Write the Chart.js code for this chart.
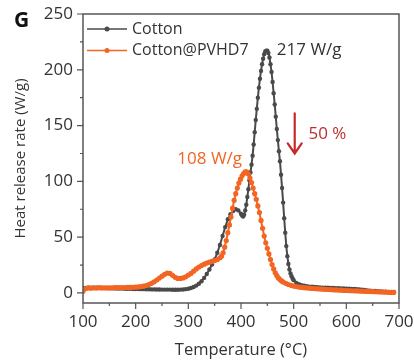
<!DOCTYPE html>
<html>
<head>
<meta charset="utf-8">
<script src="https://cdn.jsdelivr.net/npm/chart.js@4.4.0/dist/chart.umd.min.js"></script>
<style>
  body { margin: 0; background: #fff; }
  canvas { display: block; }
</style>
</head>
<body>
<canvas id="hrr" width="414" height="361"></canvas>
<script>
// values (temperature in C, heat release rate in W/g)
const cottonTemp = [100,105,110,115,120,125,130,135,140,145,150,155,160,165,170,175,180,185,190,195,
  200,205,210,215,220,225,230,235,240,245,250,255,260,265,270,275,280,285,290,295,
  300,305,310,315,320,325,330,335,340,345,350,355,360,365,370,375,380,385,390,395,400,
  402,404,406,408,410,412,414,416,418,420,422,424,426,428,430,432,434,436,438,440,
  442,444,446,448,450,452,454,456,458,460,462,464,466,468,470,472,474,476,478,480,
  482,484,486,488,490,492,494,496,498,500,
  505,510,515,520,525,530,535,540,545,550,555,560,565,570,575,580,585,590,595,600,
  605,610,615,620,625,630,635,640,645,650,655,660,665,670,675,680,685,690]
const cottonHRR = [4.5,4.5,4.8,4.8,4.7,4.6,4.5,4.5,4.4,4.3,4.2,4.2,4.1,4,4,3.9,3.8,3.8,3.7,3.6,
  3.5,3.5,3.4,3.4,3.3,3.3,3.2,3.2,3.1,3.1,3,3,3,3,2.9,2.9,2.9,3,3.1,3.4,
  3.8,4.4,5.3,6.6,8.3,10.5,13.5,17,21,25.5,30,36,43,51,59,66,70.5,73.5,75,74,71,
  69.5,68.5,70,74,79,86,93,101,108,115,123,133,144,155,165,175,184,192,199,205,
  210,214,216.5,217,217,215,211,205,198,189,179,169,158,147,137,127,118,106,94,81,
  67,54,42,33,26,21,17.5,15,13,11.5,
  9,7.8,7,6.4,6,5.7,5.5,5.3,5.1,5,4.8,4.7,4.6,4.5,4.4,4.3,4.2,4.1,4,3.9,
  3.8,3.7,3.5,3.3,3.1,2.9,2.6,2.3,2.1,1.9,1.7,1.5,1.3,1.2,1.1,1,0.9,0.8]

const pvhdTemp = [100,105,110,115,120,125,130,135,140,145,150,155,160,165,170,175,180,185,190,195,
  200,205,210,215,220,225,230,235,240,245,250,255,260,265,270,275,280,285,290,295,
  300,305,310,315,320,325,330,335,340,345,350,355,360,
  363,366,369,372,375,378,381,384,387,390,393,396,399,402,405,408,411,414,417,420,
  423,426,429,432,435,438,441,444,447,450,453,456,459,462,465,468,471,474,477,480,
  485,490,495,500,505,510,515,520,525,530,535,540,545,550,555,560,565,570,575,580,
  585,590,595,600,605,610,615,620,625,630,635,640,645,650,655,660,665,670,675,680,685,690]
const pvhdHRR = [1.5,4,4.5,4.2,4.6,4.4,4.7,4.5,4.6,4.5,4.6,4.6,4.7,4.7,4.8,4.8,4.9,5,5,5.1,
  5.2,5.4,5.7,6.1,6.7,7.5,8.6,10,11.6,13.3,15,16.7,17.8,17.5,15.8,14,13,13,13.5,14.5,
  16,17.5,19.5,21.5,23.2,24.6,25.8,26.8,27.6,28.3,29,30,31.5,
  33,36,41,47,54,61,68,76,83,89,94,98.5,102,105,107,108.5,108.5,106.5,103,99,
  94,89,84,78,72,65,58,51,45,40,35,30,25.5,21.5,18,15.5,13.5,12,10.8,9.8,
  8.6,7.6,6.8,6.2,5.7,5.3,5,4.7,4.5,4.3,4.1,3.9,3.7,3.6,3.4,3.3,3.1,3,2.8,2.7,
  2.6,2.5,2.3,2.2,2.1,2,1.9,1.8,1.7,1.6,1.5,1.4,1.3,1.2,1.1,1,0.9,0.8,0.7,0.6,0.5,0.5]

const seriesNames = ['Cotton', 'Cotton@PVHD7']
const seriesColors = ['#4a4a4a', '#f26522']

const FONT = '"Open Sans", "DejaVu Sans", sans-serif'
const TEXT = '#333333'

function toPoints(xs, ys) {
  return xs.map((x, i) => ({ x: x, y: ys[i] }))
}

// frame, tick marks, legend, panel letter and the annotations
const decorations = {
  id: 'decorations',
  afterDraw(chart) {
    const ctx = chart.ctx
    const a = chart.chartArea
    const xs = chart.scales.x
    const ys = chart.scales.y
    ctx.save()

    ctx.strokeStyle = '#555'
    ctx.lineWidth = 1.5
    ctx.strokeRect(a.left, a.top, a.right - a.left, a.bottom - a.top)

    ctx.lineWidth = 1.2
    ctx.beginPath()
    xs.ticks.forEach(t => {
      let px = xs.getPixelForValue(t.value)
      let len = t.value % 100 === 0 ? 6 : 3
      ctx.moveTo(px, a.bottom)
      ctx.lineTo(px, a.bottom + len)
    })
    ys.ticks.forEach(t => {
      let py = ys.getPixelForValue(t.value)
      let len = t.value % 50 === 0 ? 6 : 3
      ctx.moveTo(a.left, py)
      ctx.lineTo(a.left - len, py)
    })
    ctx.stroke()

    // legend
    ctx.font = '16px ' + FONT
    ctx.textBaseline = 'middle'
    ctx.textAlign = 'left'
    chart.data.datasets.forEach((ds, i) => {
      let y = a.top + 15 + i * 21.5
      let x0 = a.left + 4
      ctx.strokeStyle = ds.borderColor
      ctx.lineWidth = 1.5
      ctx.beginPath()
      ctx.moveTo(x0, y)
      ctx.lineTo(x0 + 40, y)
      ctx.stroke()
      ctx.fillStyle = ds.borderColor
      ctx.beginPath()
      ctx.arc(x0 + 20, y, 2.5, 0, Math.PI * 2)
      ctx.fill()
      ctx.fillStyle = TEXT
      ctx.fillText(ds.label, x0 + 45, y)
    })

    // panel letter
    ctx.font = 'bold 21px ' + FONT
    ctx.fillStyle = '#111'
    ctx.fillText('G', 14, 21)

    // peak labels
    ctx.font = '17px ' + FONT
    ctx.fillStyle = TEXT
    ctx.fillText('217 W/g', xs.getPixelForValue(468), ys.getPixelForValue(218))
    ctx.fillStyle = seriesColors[1]
    ctx.textAlign = 'right'
    ctx.fillText('108 W/g', xs.getPixelForValue(402), ys.getPixelForValue(120))
    ctx.textAlign = 'left'
    ctx.fillStyle = '#b8312f'
    ctx.fillText('50 %', xs.getPixelForValue(528), ys.getPixelForValue(142))

    // drop arrow
    let ax = xs.getPixelForValue(502)
    let top = ys.getPixelForValue(161)
    let tip = ys.getPixelForValue(125)
    ctx.strokeStyle = '#c62b2b'
    ctx.lineWidth = 2.2
    ctx.lineCap = 'round'
    ctx.beginPath()
    ctx.moveTo(ax, top)
    ctx.lineTo(ax, tip)
    ctx.moveTo(ax - 7, tip - 10)
    ctx.lineTo(ax, tip)
    ctx.lineTo(ax + 7, tip - 10)
    ctx.stroke()

    ctx.restore()
  }
}

const ctx = document.getElementById('hrr').getContext('2d')
const chart = new Chart(ctx, {
  type: 'scatter',
  data: {
    datasets: [
      {
        label: seriesNames[0],
        data: toPoints(cottonTemp, cottonHRR),
        showLine: true,
        borderColor: seriesColors[0],
        backgroundColor: seriesColors[0],
        borderWidth: 2,
        pointRadius: 2.2,
        pointBorderWidth: 0,
        order: 1
      },
      {
        label: seriesNames[1],
        data: toPoints(pvhdTemp, pvhdHRR),
        showLine: true,
        borderColor: seriesColors[1],
        backgroundColor: seriesColors[1],
        borderWidth: 2,
        pointRadius: 2.6,
        pointBorderWidth: 0,
        order: 0
      }
    ]
  },
  options: {
    responsive: false,
    animation: false,
    layout: { padding: { left: 0, top: 14, right: 15, bottom: 0 } },
    plugins: {
      legend: { display: false },
      tooltip: { enabled: false }
    },
    scales: {
      x: {
        type: 'linear',
        min: 100,
        max: 700,
        afterFit: (s) => { s.height = 58; s.paddingLeft = 0; s.paddingRight = 0 },
        grid: { display: false, drawTicks: false },
        border: { display: false },
        ticks: {
          stepSize: 50,
          autoSkip: false,
          maxRotation: 0,
          padding: 9,
          color: TEXT,
          font: { family: FONT, size: 17 },
          callback: (v) => v % 100 === 0 ? v : ''
        },
        title: {
          display: true,
          text: 'Temperature (°C)',
          color: TEXT,
          font: { family: FONT, size: 16.5 },
          padding: { top: 0, bottom: 1 }
        }
      },
      y: {
        min: -9,
        max: 250,
        afterFit: (s) => { s.width = 83; s.paddingTop = 0; s.paddingBottom = 0 },
        grid: { display: false, drawTicks: false },
        border: { display: false },
        ticks: {
          stepSize: 25,
          includeBounds: false,
          autoSkip: false,
          padding: 10,
          color: TEXT,
          font: { family: FONT, size: 17 },
          callback: (v) => v % 50 === 0 ? v : ''
        },
        title: {
          display: true,
          text: 'Heat release rate (W/g)',
          color: TEXT,
          font: { family: FONT, size: 15 },
          padding: { top: 12, bottom: 0 }
        }
      }
    }
  },
  plugins: [decorations]
})
</script>
</body>
</html>
